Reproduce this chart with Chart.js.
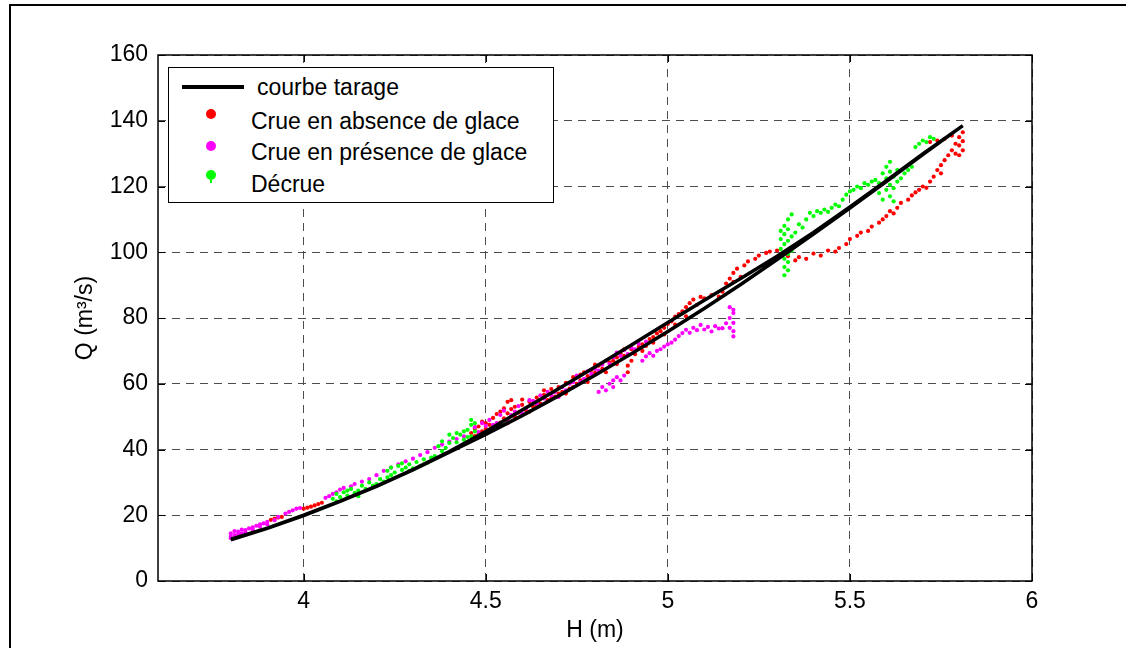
<!DOCTYPE html>
<html>
<head>
<meta charset="utf-8">
<script src="https://cdn.jsdelivr.net/npm/chart.js@4.4.1/dist/chart.umd.min.js"></script>
<style>
  body { margin: 0; background: #fff; }
  #wrap { position: relative; width: 1126px; height: 648px; font-family: "Liberation Sans", Arial, sans-serif; color: #000; }
  #frame { position: absolute; left: 9px; top: 4px; right: 0; bottom: 0; border-top: 2px solid #000; border-left: 2px solid #000; pointer-events: none; }
  #legend { position: absolute; left: 168px; top: 67px; width: 384px; height: 134px; border: 1.5px solid #000; background: #fff; }
  #legend .txt { position: absolute; font-size: 23px; line-height: 26px; white-space: nowrap; }
  #legend .dot { position: absolute; width: 10px; height: 10px; border-radius: 50%; }
  #legend .ln { position: absolute; left: 13px; top: 17px; width: 62px; height: 4px; background: #000; }
</style>
</head>
<body>
<div id="wrap">
  <canvas id="chart" width="1126" height="648"></canvas>
  <div id="frame"></div>
  <div id="legend">
    <div class="ln"></div>
    <div class="txt" style="left:88px; top:6px;">courbe tarage</div>
    <div class="dot" style="left:37px; top:41px; background:#ff0000;"></div>
    <div class="txt" style="left:82px; top:40px;">Crue en absence de glace</div>
    <div class="dot" style="left:37px; top:73px; background:#ff00ff;"></div>
    <div class="txt" style="left:82px; top:71px;">Crue en présence de glace</div>
    <div class="dot" style="left:37px; top:102px; background:#00ff00;"></div>
    <div style="position:absolute; left:41px; top:112px; width:2px; height:3px; background:#00ff00;"></div>
    <div class="txt" style="left:82px; top:103px;">Décrue</div>
  </div>
</div>
<script>
// axes
const xTicks = [4, 4.5, 5, 5.5, 6];
const yTicks = [0, 20, 40, 60, 80, 100, 120, 140, 160];

// courbe de tarage (aller puis retour, petite boucle)
const curvePts = [
  [3.80, 12.5], [3.90, 16.0], [4.00, 19.9], [4.10, 24.2], [4.20, 28.8], [4.30, 33.8], [4.40, 39.2],
  [4.50, 44.6], [4.60, 50.3], [4.70, 56.3], [4.80, 62.6], [4.90, 69.1], [5.00, 75.9], [5.10, 82.9],
  [5.20, 90.2], [5.30, 97.8], [5.40, 105.5], [5.50, 113.4], [5.60, 121.5], [5.70, 129.7], [5.81, 138.5],
  [5.70, 129.9], [5.60, 121.8], [5.50, 113.8], [5.40, 106.0], [5.30, 98.8], [5.20, 92.0], [5.10, 85.4],
  [5.00, 78.6], [4.90, 71.8], [4.80, 65.1], [4.70, 58.5], [4.60, 52.0], [4.50, 45.5], [4.40, 39.4],
  [4.30, 33.9], [4.20, 28.9], [4.10, 24.3], [4.00, 20.0], [3.90, 16.1], [3.80, 12.7]
];

// crue en absence de glace
const redPts = [
  [3.91, 18.6], [3.92, 19.0], [3.93, 19.3], [3.94, 19.5], [4.00, 22.0], [4.01, 22.3], [4.02, 22.6],
  [4.03, 23.0], [4.04, 23.4], [4.05, 23.8],
  [4.46, 45.0], [4.47, 46.2], [4.47, 44.1], [4.48, 47.0], [4.49, 45.5], [4.50, 48.0], [4.50, 46.3],
  [4.51, 47.5], [4.52, 49.6], [4.52, 47.0], [4.53, 50.8], [4.54, 48.2], [4.55, 52.5], [4.55, 49.5],
  [4.56, 54.5], [4.56, 51.0], [4.57, 55.0], [4.57, 52.3], [4.58, 53.0], [4.59, 51.2], [4.60, 53.6],
  [4.61, 52.0], [4.62, 54.5], [4.63, 53.0], [4.64, 55.8], [4.65, 54.0], [4.66, 56.6], [4.67, 55.0],
  [4.68, 58.4], [4.69, 56.1], [4.70, 59.0], [4.71, 57.5], [4.72, 60.3], [4.73, 58.5], [4.74, 62.0],
  [4.75, 60.0], [4.76, 61.0], [4.77, 63.5], [4.78, 62.3], [4.79, 64.2], [4.80, 63.3], [4.81, 65.5],
  [4.82, 64.5], [4.84, 66.5], [4.85, 67.0], [4.86, 68.0], [4.87, 69.2], [4.88, 68.5], [4.89, 63.5],
  [4.89, 65.5], [4.90, 67.0], [4.90, 70.5], [4.92, 71.2], [4.93, 72.0], [4.94, 71.5], [4.95, 73.6],
  [4.96, 74.2], [4.97, 75.3], [4.98, 76.0], [4.99, 77.0], [5.00, 78.2], [5.01, 79.0], [5.02, 80.4],
  [5.03, 81.2], [5.04, 82.0], [5.05, 83.3], [5.06, 84.5], [5.07, 85.6], [5.08, 84.0], [5.09, 86.4],
  [5.10, 86.0],
  [4.48, 44.5], [4.49, 48.5], [4.51, 45.5], [4.53, 46.5], [4.54, 51.5], [4.56, 48.0], [4.58, 50.0],
  [4.60, 55.2], [4.62, 51.5], [4.64, 53.5], [4.66, 58.0], [4.68, 55.5], [4.70, 57.0], [4.72, 57.0],
  [4.74, 59.0], [4.76, 62.8], [4.78, 60.5], [4.80, 65.8], [4.83, 63.5], [4.86, 66.0], [4.88, 70.5],
  [4.91, 69.0], [4.93, 70.0], [4.96, 72.5], [4.99, 75.0], [5.02, 78.0], [5.05, 80.5],
  [5.12, 87.0], [5.14, 86.5], [5.15, 88.0], [5.16, 90.5], [5.17, 92.0], [5.18, 91.0], [5.18, 93.7],
  [5.19, 95.0], [5.20, 92.5], [5.21, 96.0], [5.22, 97.2], [5.24, 98.0], [5.25, 99.0], [5.27, 99.8],
  [5.28, 100.2], [5.30, 100.5],
  [5.33, 98.8], [5.35, 97.5], [5.36, 98.5], [5.38, 98.0], [5.40, 99.6], [5.42, 99.0], [5.44, 100.5],
  [5.46, 100.2], [5.47, 101.3], [5.49, 102.5], [5.50, 104.0], [5.52, 105.0], [5.53, 106.0], [5.55, 106.5],
  [5.56, 107.8], [5.58, 109.0], [5.59, 110.0], [5.60, 111.0], [5.61, 112.5], [5.62, 111.8], [5.63, 113.5],
  [5.64, 115.0], [5.66, 116.0], [5.67, 117.3], [5.68, 118.2], [5.69, 119.0], [5.70, 120.0], [5.71, 119.6],
  [5.72, 121.5], [5.73, 123.0], [5.74, 125.0], [5.75, 126.5], [5.75, 124.0], [5.76, 128.0], [5.77, 129.5],
  [5.78, 131.0], [5.79, 130.0], [5.79, 133.0], [5.80, 129.5], [5.80, 132.5], [5.80, 135.0], [5.81, 131.0],
  [5.81, 133.8], [5.81, 136.5], [5.74, 134.0], [5.76, 134.5], [5.78, 135.5], [5.72, 133.5]
];

// crue en présence de glace
const magentaPts = [
  [3.80, 13.5], [3.80, 14.5], [3.81, 14.0], [3.82, 15.0], [3.83, 14.5], [3.84, 15.5], [3.85, 16.0],
  [3.86, 16.3], [3.87, 16.8], [3.88, 17.2], [3.89, 17.5], [3.90, 18.0], [3.95, 20.5], [3.96, 21.0],
  [3.97, 21.5], [3.98, 22.0], [3.99, 22.2], [4.06, 25.3], [4.07, 25.8], [4.08, 26.5], [4.09, 27.0],
  [4.10, 27.8], [4.11, 28.3], [4.13, 28.8], [4.14, 29.5], [4.16, 30.2], [4.18, 31.0], [4.20, 32.2],
  [4.22, 33.5], [4.24, 34.5], [4.26, 35.5], [4.28, 36.4], [4.30, 37.2], [4.32, 38.3], [4.34, 39.2],
  [4.36, 40.5], [4.38, 41.5], [4.40, 42.4], [4.42, 43.2], [4.44, 44.0],
  [3.80, 13.0], [3.81, 15.2], [3.82, 14.2], [3.83, 15.6], [3.84, 14.8], [3.86, 15.7], [3.88, 16.5],
  [3.90, 17.2], [3.92, 18.5], [3.93, 19.5],
  [4.47, 46.8], [4.48, 45.3], [4.50, 47.2], [4.51, 49.0], [4.53, 48.0], [4.54, 50.5], [4.56, 49.0],
  [4.58, 51.5], [4.59, 53.2], [4.61, 52.5], [4.62, 55.0], [4.64, 54.0], [4.66, 55.5], [4.67, 57.5],
  [4.69, 57.5], [4.70, 56.0], [4.71, 59.0], [4.72, 58.0], [4.74, 60.5], [4.75, 62.5], [4.77, 61.5],
  [4.78, 63.8], [4.80, 64.5], [4.82, 65.8], [4.83, 67.0], [4.85, 68.0], [4.86, 69.5], [4.88, 70.2],
  [4.90, 71.0], [4.92, 72.2], [4.94, 72.8],
  [4.49, 48.0], [4.52, 47.5], [4.55, 51.8], [4.57, 50.5], [4.60, 51.0], [4.63, 54.8], [4.65, 56.5],
  [4.68, 56.5], [4.73, 60.0], [4.76, 60.5], [4.79, 63.0], [4.81, 64.0], [4.84, 66.0], [4.87, 68.5],
  [4.89, 69.0], [4.91, 70.5],
  [4.81, 57.5], [4.82, 59.0], [4.83, 58.0], [4.84, 60.0], [4.85, 61.0], [4.85, 59.0], [4.86, 62.0],
  [4.87, 61.0], [4.88, 62.5], [4.93, 67.0], [4.94, 68.3], [4.95, 69.3], [4.96, 68.5], [4.97, 70.0],
  [4.98, 70.5], [4.99, 71.3], [5.00, 72.0], [5.01, 72.5], [5.02, 73.4], [5.03, 74.5], [5.04, 75.4],
  [5.05, 76.4], [5.06, 75.5], [5.07, 77.0], [5.08, 76.3], [5.09, 77.9], [5.10, 76.5], [5.11, 77.3],
  [5.12, 75.9], [5.13, 77.5], [5.14, 76.8], [5.15, 76.9], [5.16, 78.4], [5.17, 77.0], [5.17, 80.0],
  [5.18, 74.4], [5.18, 76.0], [5.18, 78.5], [5.18, 81.5], [5.18, 82.5], [5.17, 83.3]
];

// décrue
const greenPts = [
  [4.08, 25.0], [4.09, 26.5], [4.10, 25.5], [4.11, 27.0], [4.12, 26.0], [4.13, 28.0], [4.14, 26.8],
  [4.15, 27.5], [4.16, 29.0], [4.17, 28.0], [4.18, 30.0], [4.19, 29.0], [4.21, 31.0], [4.22, 30.2],
  [4.23, 33.5], [4.23, 31.5], [4.24, 34.5], [4.25, 33.0], [4.26, 35.0], [4.27, 33.8], [4.28, 34.5],
  [4.29, 35.5], [4.30, 34.3], [4.31, 36.2], [4.32, 35.0], [4.33, 37.0], [4.34, 36.0], [4.35, 37.5],
  [4.36, 38.0], [4.37, 41.0], [4.38, 42.5], [4.39, 40.5], [4.40, 42.0], [4.41, 43.5], [4.42, 42.2],
  [4.43, 44.5], [4.44, 43.0], [4.45, 46.0], [4.46, 44.0], [4.46, 47.5], [4.46, 49.0], [4.47, 45.5],
  [4.47, 48.0],
  [4.09, 24.2], [4.12, 27.5], [4.15, 25.8], [4.20, 29.5], [4.24, 32.2], [4.27, 35.8], [4.29, 33.5],
  [4.33, 35.5], [4.38, 39.5], [4.40, 44.5], [4.42, 45.0], [4.44, 45.5], [4.45, 43.8],
  [5.31, 101.0], [5.31, 104.0], [5.31, 106.5], [5.32, 93.0], [5.32, 95.5], [5.32, 98.0], [5.32, 102.5],
  [5.32, 105.5], [5.32, 108.0], [5.33, 94.5], [5.33, 97.0], [5.33, 99.5], [5.33, 103.5], [5.33, 107.0],
  [5.33, 110.0], [5.34, 100.5], [5.34, 104.8], [5.34, 111.5], [5.35, 106.0], [5.36, 108.5], [5.37, 107.5],
  [5.38, 110.0], [5.39, 112.0], [5.40, 111.0], [5.41, 112.5], [5.42, 112.0], [5.43, 113.0], [5.44, 112.3],
  [5.45, 113.5], [5.46, 114.5], [5.47, 114.0], [5.48, 116.0], [5.49, 117.5], [5.50, 118.5], [5.51, 119.0],
  [5.52, 120.0], [5.53, 119.5], [5.54, 121.0], [5.55, 120.5], [5.56, 121.5], [5.57, 122.0], [5.58, 118.0],
  [5.58, 121.0], [5.59, 124.0], [5.59, 116.0], [5.60, 119.0], [5.60, 122.5], [5.60, 126.0], [5.61, 117.0],
  [5.61, 120.5], [5.61, 124.5], [5.61, 127.5], [5.62, 115.5], [5.62, 119.5], [5.62, 123.0], [5.63, 121.5],
  [5.63, 125.0], [5.64, 122.5], [5.65, 124.0], [5.66, 125.0], [5.67, 126.0], [5.68, 132.0], [5.69, 133.0],
  [5.70, 134.0], [5.71, 133.5], [5.72, 135.0], [5.73, 134.5]
];

const toXY = pts => pts.map(([x, y]) => ({ x: x, y: y }));
const fontFamily = '"Liberation Sans", Arial, sans-serif';

// cadre noir + graduations vers l'intérieur (style matlab)
const boxPlugin = {
    id: 'boxPlugin',
    afterDraw(chart) {
        const { ctx, chartArea: a, scales } = chart;
        ctx.save();
        ctx.strokeStyle = '#000';
        ctx.lineWidth = 1.5;
        ctx.strokeRect(a.left, a.top, a.right - a.left, a.bottom - a.top);
        ctx.lineWidth = 1;
        ctx.beginPath();
        xTicks.forEach(v => {
            const px = Math.round(scales.x.getPixelForValue(v)) + 0.5;
            ctx.moveTo(px, a.bottom); ctx.lineTo(px, a.bottom - 7);
            ctx.moveTo(px, a.top); ctx.lineTo(px, a.top + 7);
        });
        yTicks.forEach(v => {
            const py = Math.round(scales.y.getPixelForValue(v)) + 0.5;
            ctx.moveTo(a.left, py); ctx.lineTo(a.left + 7, py);
            ctx.moveTo(a.right, py); ctx.lineTo(a.right - 7, py);
        });
        ctx.stroke();
        ctx.restore();
    }
};

new Chart(document.getElementById('chart').getContext('2d'), {
    type: 'scatter',
    data: {
        datasets: [
            { label: 'courbe tarage', data: toXY(curvePts), showLine: true, borderColor: '#000', borderWidth: 3.5, pointRadius: 0, tension: 0, fill: false },
            { label: 'Décrue', data: toXY(greenPts), backgroundColor: '#00ff00', borderWidth: 0, pointRadius: 2.1 },
            { label: 'Crue en présence de glace', data: toXY(magentaPts), backgroundColor: '#ff00ff', borderWidth: 0, pointRadius: 2.1 },
            { label: 'Crue en absence de glace', data: toXY(redPts), backgroundColor: '#ff0000', borderWidth: 0, pointRadius: 2.1 }
        ]
    },
    options: {
        responsive: false,
        animation: false,
        devicePixelRatio: 1,
        layout: { padding: { left: 0, top: 55, right: 94, bottom: 0 } },
        plugins: { legend: { display: false }, tooltip: { enabled: false } },
        scales: {
            x: {
                type: 'linear', min: 3.6, max: 6,
                afterBuildTicks: s => { s.ticks = xTicks.map(v => ({ value: v })); },
                afterFit: s => { s.height = 67; },
                grid: { color: '#4d4d4d', lineWidth: 1, drawTicks: false },
                border: { display: false, dash: [8, 6] },
                ticks: { color: '#000', padding: 7, font: { family: fontFamily, size: 23 }, maxRotation: 0, callback: v => String(v) },
                title: { display: true, text: 'H (m)', color: '#000', font: { family: fontFamily, size: 23 }, padding: { top: 0, bottom: 4 } }
            },
            y: {
                type: 'linear', min: 0, max: 160,
                afterBuildTicks: s => { s.ticks = yTicks.map(v => ({ value: v })); },
                afterFit: s => { s.width = 158; },
                grid: { color: '#4d4d4d', lineWidth: 1, drawTicks: false },
                border: { display: false, dash: [8, 6] },
                ticks: { color: '#000', padding: 10, font: { family: fontFamily, size: 23 }, callback: v => String(v) },
                title: { display: true, text: 'Q (m³/s)', color: '#000', font: { family: fontFamily, size: 23 }, padding: { top: 72, bottom: 0 } }
            }
        }
    },
    plugins: [boxPlugin]
});
</script>
</body>
</html>
